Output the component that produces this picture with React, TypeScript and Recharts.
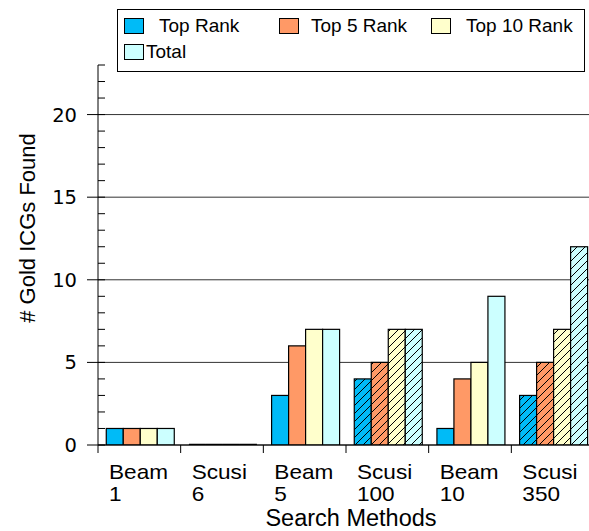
import React from 'react';
import { BarChart, Bar, XAxis, YAxis, CartesianGrid, Legend, Label } from 'recharts';

const methods = ['Beam', 'Scusi', 'Beam', 'Scusi', 'Beam', 'Scusi'];
const params = ['1', '6', '5', '100', '10', '350'];
const topRank = [1, 0, 3, 4, 1, 3];
const top5Rank = [1, 0, 6, 5, 4, 5];
const top10Rank = [1, 0, 7, 7, 5, 7];
const total = [1, 0, 7, 7, 9, 12];
const seriesNames = ['Top Rank', 'Top 5 Rank', 'Top 10 Rank', 'Total'];
const seriesKeys = ['topRank', 'top5Rank', 'top10Rank', 'total'];
const seriesColors = ['#00BBF7', '#FF9966', '#FFFFCC', '#CCFFFF'];
const yMajorTicks = [0, 5, 10, 15, 20];
const yAllTicks = [0, 1, 2, 3, 4, 5, 6, 7, 8, 9, 10, 11, 12, 13, 14, 15, 16, 17, 18, 19, 20, 21, 22, 23];
const yMax = 23;

const data = methods.map((m, i) => ({
  category: `${m} ${params[i]}`,
  method: m,
  param: params[i],
  topRank: topRank[i],
  top5Rank: top5Rank[i],
  top10Rank: top10Rank[i],
  total: total[i],
}));

const SANS = '"Liberation Sans", Arial, Helvetica, sans-serif';

const HatchBar = (props: any) => {
  const { x, y, width, height, fill, payload } = props;
  if (!height || height <= 0) {
    return <line x1={x} x2={x + width} y1={y} y2={y} stroke="#000" strokeWidth={2.5} />;
  }
  const hatched = payload && payload.method === 'Scusi';
  return (
    <g>
      <defs>
        <pattern id="hatchPat" patternUnits="userSpaceOnUse" width={8} height={8}>
          <path d="M0,8 L8,0 M-2,2 L2,-2 M6,10 L10,6" stroke="#000" strokeWidth={1} />
        </pattern>
      </defs>
      <rect x={x} y={y} width={width} height={height} fill={fill} />
      {hatched && <rect x={x} y={y} width={width} height={height} fill="url(#hatchPat)" />}
      <rect x={x} y={y} width={width} height={height} fill="none" stroke="#000" strokeWidth={1.2} />
    </g>
  );
};

const XTick = (props: any) => {
  const { x, y, payload } = props;
  const i = payload.index;
  const off = payload.offset != null ? payload.offset : 41.3;
  const left = x - off;
  return (
    <g>
      <line x1={left} x2={left} y1={y} y2={y + 8} stroke="#000" strokeWidth={1} />
      <text
        transform={`translate(${left + 11},${y + 34}) scale(1.13,1)`}
        fontFamily={SANS}
        fontSize={20}
        fill="#000"
      >
        {methods[i]}
      </text>
      <text
        transform={`translate(${left + 11},${y + 56}) scale(1.13,1)`}
        fontFamily={SANS}
        fontSize={20}
        fill="#000"
      >
        {params[i]}
      </text>
    </g>
  );
};

const YTick = (props: any) => {
  const { x, y, payload } = props;
  const v = payload.value;
  const major = yMajorTicks.indexOf(v) >= 0;
  if (!major) {
    return <line x1={x} x2={x + 7} y1={y} y2={y} stroke="#000" strokeWidth={1} />;
  }
  return (
    <g>
      <line x1={x - 11} x2={x + 7} y1={y} y2={y} stroke="#000" strokeWidth={1} />
      <text
        x={x - 21}
        y={y}
        dy="0.36em"
        textAnchor="end"
        fontFamily={'"DejaVu Sans", sans-serif'}
        fontSize={19.5}
        fill="#000"
      >
        {v}
      </text>
    </g>
  );
};

const YLabel = (props: any) => {
  const vb = props.viewBox || { x: 0, y: 65, width: 98, height: 380 };
  const cx = vb.x + 35;
  const cy = vb.y + vb.height / 2 - 27;
  return (
    <text
      x={cx}
      y={cy}
      transform={`rotate(-90 ${cx} ${cy})`}
      textAnchor="middle"
      fontFamily={SANS}
      fontSize={22}
      fill="#000"
    >
      # Gold ICGs Found
    </text>
  );
};

const XLabel = (props: any) => {
  const vb = props.viewBox || { x: 98, y: 445, width: 496, height: 86 };
  const cx = vb.x + vb.width / 2 + 5;
  return (
    <text x={cx} y={vb.y + 81} textAnchor="middle" fontFamily={SANS} fontSize={23.5} fill="#000">
      Search Methods
    </text>
  );
};

const gridGen = (args: any) => {
  const yAxis = args && args.yAxis;
  if (yAxis && typeof yAxis.scale === 'function') {
    return yMajorTicks.map((t) => yAxis.scale(t));
  }
  const off = (args && args.offset) || {};
  const top = off.top != null ? off.top : 65;
  const h = off.height != null ? off.height : 380;
  return yMajorTicks.map((t) => top + h * (1 - t / yMax));
};

const legendPos = [
  { left: 6, top: 8, gap: 15 },
  { left: 161, top: 8, gap: 12 },
  { left: 313, top: 8, gap: 15 },
  { left: 6, top: 34, gap: 2 },
];

const LegendBox = (props: any) => {
  const payload = (props.payload || []).slice();
  payload.sort((a: any, b: any) => seriesNames.indexOf(a.value) - seriesNames.indexOf(b.value));
  return (
    <div
      style={{
        position: 'relative',
        width: 468,
        height: 63,
        boxSizing: 'border-box',
        border: '1px solid #000',
        background: '#fff',
        fontFamily: SANS,
        fontSize: 19,
        color: '#000',
      }}
    >
      {payload.map((e: any, i: number) => {
        const p = legendPos[i] || legendPos[0];
        return (
          <div
            key={i}
            style={{ position: 'absolute', left: p.left, top: p.top - 2, display: 'flex', alignItems: 'center', whiteSpace: 'nowrap', height: 20 }}
          >
            <span
              style={{
                display: 'inline-block',
                width: 20,
                height: 16,
                boxSizing: 'border-box',
                border: '1px solid #000',
                background: e.color,
                marginRight: p.gap,
              }}
            />
            <span>{e.value}</span>
          </div>
        );
      })}
    </div>
  );
};

export default function App() {
  return (
    <div style={{ position: 'fixed', left: 0, top: 0, width: 589, height: 531, overflow: 'hidden', background: '#fff' }}>
      <BarChart
        width={600}
        height={531}
        data={data}
        margin={{ top: 65, right: 6, bottom: 0, left: 0 }}
        barCategoryGap="10%"
        barGap={0}
      >
        <CartesianGrid
          horizontal={true}
          vertical={false}
          stroke="#333"
          strokeWidth={1}
          horizontalCoordinatesGenerator={gridGen}
        />
        <XAxis
          dataKey="category"
          height={86}
          axisLine={{ stroke: '#000', strokeWidth: 1 }}
          tickLine={false}
          tickSize={0}
          tickMargin={0}
          interval={0}
          tick={<XTick />}
        >
          <Label content={<XLabel />} />
        </XAxis>
        <YAxis
          width={98}
          domain={[0, yMax]}
          ticks={yAllTicks}
          interval={0}
          allowDataOverflow
          axisLine={{ stroke: '#000', strokeWidth: 1 }}
          tickLine={false}
          tickSize={0}
          tickMargin={0}
          tick={<YTick />}
        >
          <Label content={<YLabel />} />
        </YAxis>
        <Legend
          layout="horizontal"
          verticalAlign="middle"
          align="center"
          wrapperStyle={{ left: 117, top: 9, width: 468, height: 63 }}
          content={<LegendBox />}
        />
        {seriesKeys.map((k, i) => (
          <Bar
            key={k}
            dataKey={k}
            name={seriesNames[i]}
            fill={seriesColors[i]}
            isAnimationActive={false}
            shape={<HatchBar />}
          />
        ))}
      </BarChart>
    </div>
  );
}
